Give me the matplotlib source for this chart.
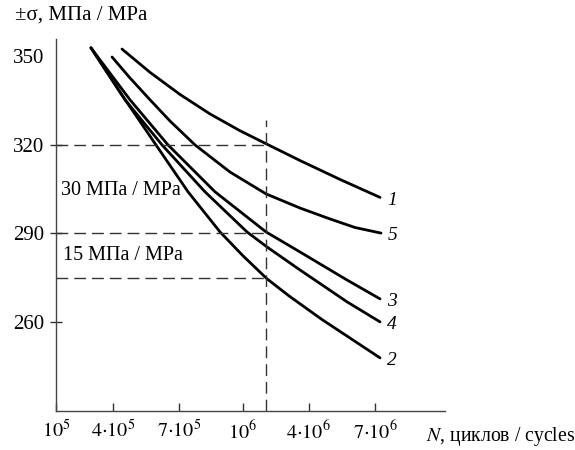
import numpy as np
import matplotlib
matplotlib.use("Agg")
from matplotlib import pyplot as plt

plt.rcParams['font.family'] = ['Liberation Serif', 'DejaVu Serif']
plt.rcParams['mathtext.fontset'] = 'stix'

# x axis is drawn on a hand-made scale: position of each tick along the axis
x_tick_pos = [0.0, 0.877, 1.89, 2.877, 3.89, 4.91]
x_tick_labels = [r'$10^5$', r'$4{\cdot}10^5$', r'$7{\cdot}10^5$', r'$10^6$',
                 r'$4{\cdot}10^6$', r'$7{\cdot}10^6$']
y_ticks = [260, 290, 320, 350]

# curves (x = position on the axis, y = sigma, MPa)
x1 = [1.015, 1.446, 1.908, 2.369, 2.831, 3.231, 3.754, 4.369, 4.985]
y1 = [352.5, 344.6, 337.1, 330.5, 324.8, 320.4, 314.7, 308.3, 302.2]

x5 = [0.862, 1.138, 1.446, 1.754, 2.138, 2.677, 3.231, 3.754, 4.215, 4.600, 5.0]
y5 = [349.8, 342.7, 335.3, 328.1, 320.0, 310.8, 303.4, 298.6, 294.9, 292.0, 290.1]

x3 = [0.538, 1.138, 1.723, 2.446, 3.231, 3.754, 4.477, 4.985]
y3 = [352.9, 335.3, 320.0, 304.1, 290.5, 283.7, 274.2, 267.8]

x4 = [0.538, 1.062, 1.631, 2.292, 2.938, 3.246, 3.754, 4.477, 4.985]
y4 = [352.9, 335.3, 320.0, 304.1, 290.5, 285.4, 277.6, 266.8, 260.0]

x2 = [0.538, 1.015, 1.538, 2.031, 2.523, 2.877, 3.246, 3.585, 4.092, 4.985]
y2 = [352.9, 336.9, 320.0, 304.1, 290.5, 282.4, 274.6, 268.8, 260.8, 247.8]

curves = [('1', x1, y1), ('5', x5, y5), ('3', x3, y3), ('4', x4, y4), ('2', x2, y2)]

# reference levels (dashed)
n_ref = 3.231
levels = [320, 290, 275]
n_ref_top = 328.5

fig = plt.figure(figsize=(5.75, 4.5), dpi=100)
ax = fig.add_axes([0.0974, 0.0867, 0.6766, 0.8266])

for name, xs, ys in curves:
    ax.plot(xs, ys, color='black', lw=2.0, solid_capstyle='round', solid_joinstyle='round')
    ax.annotate(name, xy=(xs[-1], ys[-1]), xytext=(5, -2), textcoords='offset points',
                fontsize=14, style='italic', va='center', ha='left')

dash = (8.5, 4.3)
for lv in levels:
    ax.plot([0, n_ref], [lv, lv], color='#333333', lw=1.0, dashes=dash)
ax.plot([n_ref, n_ref], [229.8, n_ref_top], color='#333333', lw=1.0, dashes=dash)

ax.text(0.07, 304.7, '30 МПа / МРа', fontsize=14.5, va='center', ha='left')
ax.text(0.108, 282.4, '15 МПа / МРа', fontsize=14.5, va='center', ha='left')

ax.set_xlim(0, 5.985)
ax.set_ylim(229.8, 355.9)
ax.set_xticks(x_tick_pos)
ax.set_xticklabels(x_tick_labels, fontsize=14.5)
ax.set_yticks(y_ticks)
ax.set_yticklabels([str(v) for v in y_ticks], fontsize=15)
ax.tick_params(axis='x', direction='in', length=6, width=1.0, color='#333333', pad=7)
ax.tick_params(axis='y', direction='inout', length=9, width=1.0, color='#333333', pad=4)
ax.yaxis.get_major_ticks()[-1].tick1line.set_visible(False)

for s in ['top', 'right']:
    ax.spines[s].set_visible(False)
for s in ['left', 'bottom']:
    ax.spines[s].set_color('#444444')
    ax.spines[s].set_linewidth(1.0)

fig.text(15 / 575, 1 - 15 / 450, '±σ, МПа / МРа', fontsize=15, va='center', ha='left')
fig.text(426 / 575, 1 - 437 / 450, '$N$, циклов / cycles', fontsize=14.2, va='center', ha='left')

fig.savefig('out.png', dpi=100)
